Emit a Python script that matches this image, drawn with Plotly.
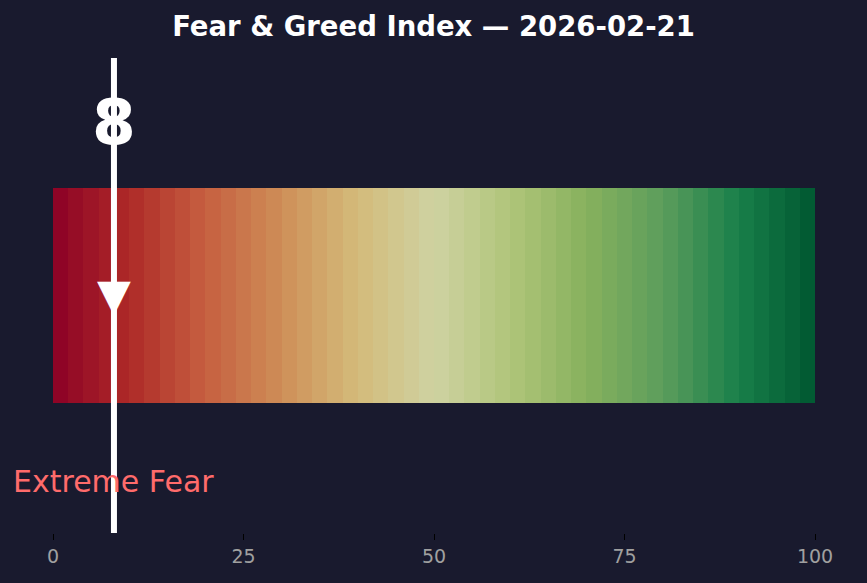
import plotly.graph_objects as go

# gradient band: 50 segments, 2 points wide, coloured by the scale
seg_width = 2
seg_mid = [seg_width * i + 1 for i in range(50)]

scale_stops = [0.0, 0.1, 0.2, 0.3, 0.4, 0.5, 0.6, 0.7, 0.8, 0.9, 1.0]
scale_colors = ["#8b0026", "#ae2a27", "#c65f40", "#ce8e57", "#d3bb7a", "#cfd2a2",
                "#b0c57a", "#87b15d", "#5c9d5c", "#187f4a", "#005730"]

index_value = 8
index_label = "Extreme Fear"
index_date = "2026-02-21"
tick_vals = [0, 25, 50, 75, 100]

bg = "#191a2e"
font_main = "DejaVu Sans"

fig = go.Figure()
fig.add_trace(go.Bar(
    x=seg_mid, y=[1] * len(seg_mid), base=0, width=seg_width,
    marker=dict(color=seg_mid, colorscale=[list(p) for p in zip(scale_stops, scale_colors)],
                cmin=0, cmax=100, line=dict(width=0)),
    hoverinfo="skip", showlegend=False))

# pointer line
fig.add_trace(go.Scatter(x=[index_value, index_value], y=[-0.6, 1.6], mode="lines",
                         line=dict(color="white", width=6), showlegend=False, hoverinfo="skip"))
# arrow head on the band
fig.add_annotation(x=index_value, y=0.5, text="▼", showarrow=False, yanchor="middle", yshift=1,
                   font=dict(size=44, color="white", family=font_main))

fig.add_annotation(x=index_value, y=1.3, text="<b>%d</b>" % index_value, showarrow=False,
                   font=dict(size=63, color="white", family=font_main))
fig.add_annotation(x=index_value, y=-0.36, text=index_label, showarrow=False,
                   font=dict(size=30, color="#ff6b6b", family=font_main))

fig.update_layout(
    width=867, height=583,
    paper_bgcolor=bg, plot_bgcolor=bg,
    margin=dict(l=53, r=52, t=58, b=50),
    title=dict(text="<b>Fear & Greed Index — %s</b>" % index_date, x=0.5, xanchor="center",
               y=0.954, yanchor="middle", font=dict(size=27.5, color="white", family=font_main)),
    font=dict(family=font_main),
    bargap=0,
    xaxis=dict(range=[0, 100], tickvals=tick_vals, showgrid=False, zeroline=False,
               ticks="outside", ticklen=6, tickcolor="#000000",
               tickfont=dict(size=19, color="#a0a0a0")),
    yaxis=dict(range=[-0.6, 1.6], visible=False, showgrid=False, zeroline=False),
)

fig.write_html("out.html", config={"displayModeBar": False},
               post_script="document.body.style.margin='0';")
